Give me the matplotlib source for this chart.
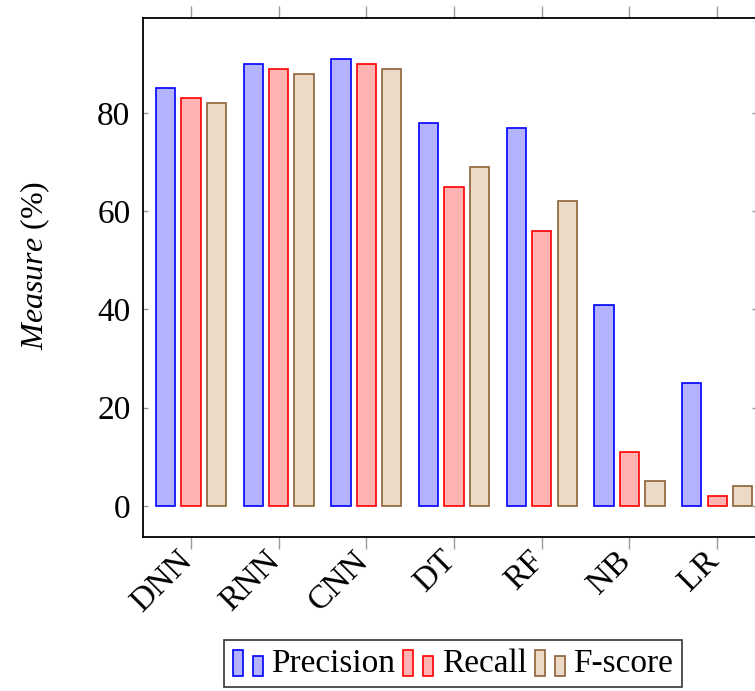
import matplotlib
matplotlib.use("Agg")
import matplotlib.pyplot as plt
import matplotlib.transforms as mtransforms
import numpy as np
from matplotlib.patches import Rectangle
from matplotlib.legend_handler import HandlerBase

categories = ["DNN", "RNN", "CNN", "DT", "RF", "NB", "LR"]
precision = [85, 90, 91, 78, 77, 41, 25]
recall = [83, 89, 90, 65, 56, 11, 2]
fscore = [82, 88, 89, 69, 62, 5, 4]
series_names = ["Precision", "Recall", "F-score"]
yticks = [0, 20, 40, 60, 80]

plt.rcParams['font.family'] = ['Liberation Serif', 'DejaVu Serif']
plt.rcParams['mathtext.fontset'] = 'custom'
plt.rcParams['mathtext.it'] = 'Liberation Serif:italic'
plt.rcParams['mathtext.rm'] = 'Liberation Serif'

fills = [(0.7, 0.7, 1.0), (1.0, 0.7, 0.7), (0.925, 0.85, 0.775)]
edges = [(0, 0, 1), (1, 0, 0), (0.55, 0.38, 0.22)]

fig = plt.figure(figsize=(7.55, 6.91), dpi=100)
ax = fig.add_axes([143/755, 1-537/691, (757.5-143)/755, (537-18)/691])

x = np.arange(len(categories))
w = 0.22
off = 0.29
for i, vals in enumerate([precision, recall, fscore]):
    ax.bar(x + (i-1)*off, vals, width=w, color=fills[i], edgecolor=edges[i],
           linewidth=1.2, label=series_names[i])

ax.set_xlim(-0.547, 6.46)
ax.set_ylim(-6.3, 99.3)
ax.set_yticks(yticks)
ax.set_xticks(x)
ax.set_xticklabels(categories, rotation=45, ha='right', va='top', rotation_mode='anchor')
ax.tick_params(axis='x', direction='out', length=8.6, width=1, color='0.6',
               top=True, labeltop=False, labelsize=24, pad=3)
ax.tick_params(axis='y', direction='in', length=3.6, width=1, color='0.6',
               right=True, labelsize=24, pad=9)
shift = mtransforms.ScaledTranslation(-14/100, 8/100, fig.dpi_scale_trans)
for lab in ax.get_xticklabels():
    lab.set_transform(lab.get_transform() + shift)
for s in ax.spines.values():
    s.set_linewidth(1.3)
ax.set_ylabel(r"$\mathit{Measure}$ (%)", fontsize=23)
ax.yaxis.set_label_coords(52/755, 1-266/691, transform=fig.transFigure)


class DoubleBarHandler(HandlerBase):
    def create_artists(self, legend, orig_handle, xdescent, ydescent, width, height, fontsize, trans):
        fc = orig_handle.get_facecolor()
        ec = orig_handle.get_edgecolor()
        bw = 10 * 0.72
        r1 = Rectangle((-xdescent, -ydescent - 3), bw, 26 * 0.72, facecolor=fc, edgecolor=ec,
                       linewidth=1.2, transform=trans)
        r2 = Rectangle((-xdescent + 20 * 0.72, -ydescent - 3), bw, 20 * 0.72, facecolor=fc,
                       edgecolor=ec, linewidth=1.2, transform=trans)
        return [r1, r2]


handles = [Rectangle((0, 0), 1, 1, facecolor=fills[i], edgecolor=edges[i]) for i in range(3)]
leg = fig.legend(handles, series_names, loc='upper center', bbox_to_anchor=(453/755, 1-640/691),
                 ncol=3, fontsize=24, frameon=True, fancybox=False, edgecolor='black',
                 handler_map={Rectangle: DoubleBarHandler()}, handlelength=0.9,
                 handletextpad=0.25, columnspacing=0.25, borderpad=0.25, borderaxespad=0)
leg.get_frame().set_linewidth(1.2)

fig.savefig("out.png", dpi=100)
